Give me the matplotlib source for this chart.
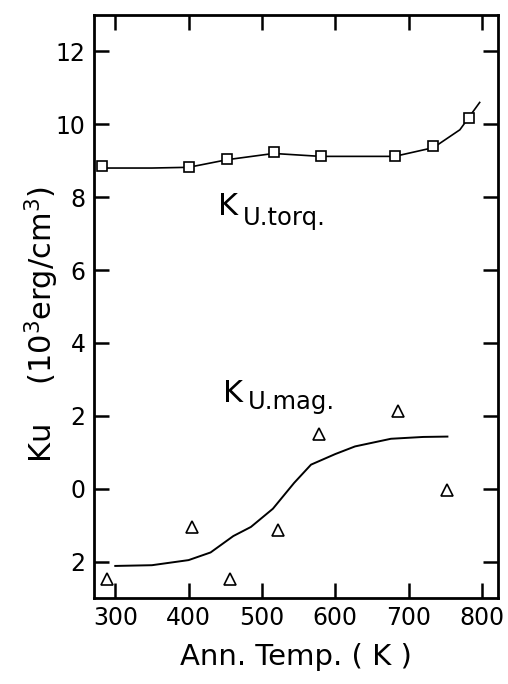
import matplotlib.pyplot as plt

plt.rcParams['font.family'] = ['DejaVu Sans']

torq_temp = [282, 400, 453, 516, 580, 681, 734, 782]
torq_ku = [8.85, 8.84, 9.05, 9.24, 9.13, 9.13, 9.40, 10.18]
torq_fit_temp = [285, 350, 400, 453, 516, 580, 681, 734, 770, 797]
torq_fit_ku = [8.80, 8.80, 8.82, 9.03, 9.20, 9.12, 9.12, 9.36, 9.85, 10.60]

mag_temp = [289, 404, 456, 522, 578, 686, 753]
mag_ku = [-2.48, -1.05, -2.48, -1.13, 1.49, 2.12, -0.03]
mag_fit_temp = [300, 350, 400, 430, 461, 485, 515, 544, 567, 600, 627, 676, 720, 753]
mag_fit_ku = [-2.12, -2.10, -1.96, -1.75, -1.30, -1.05, -0.55, 0.16, 0.66,
              0.95, 1.16, 1.37, 1.42, 1.43]

xticks = [300, 400, 500, 600, 700, 800]
yticks = [-2, 0, 2, 4, 6, 8, 10, 12]
ytick_labels = ['2', '0', '2', '4', '6', '8', '10', '12']

fig = plt.figure(figsize=(5.08, 6.84), dpi=100)
ax = fig.add_axes([94 / 508, 1 - 598 / 684, (498 - 94) / 508, (598 - 15) / 684])

ax.plot(torq_fit_temp, torq_fit_ku, '-', color='black', lw=1.2, zorder=2)
ax.plot(torq_temp, torq_ku, 's', ms=7, mfc='white', mec='black', mew=1.2, zorder=3)

ax.plot(mag_fit_temp, mag_fit_ku, '-', color='black', lw=1.4, zorder=2)
ax.plot(mag_temp, mag_ku, '^', ms=9, mfc='none', mec='black', mew=1.2, zorder=3)

# 曲线标注：K 加下标
for x0, y0, sub, dy in [(440, 7.52, 'U.torq.', -7.5), (447, 2.38, 'U.mag.', -5)]:
    ax.text(x0, y0, 'K', fontsize=22, ha='left', va='baseline')
    ax.annotate(sub, (x0, y0), xytext=(18, dy), textcoords='offset points',
                fontsize=17.5, ha='left', va='baseline')

ax.set_xlim(271, 822)
ax.set_ylim(-3, 13)
ax.set_xticks(xticks)
ax.set_yticks(yticks)
ax.set_yticklabels(ytick_labels)
ax.tick_params(direction='in', length=11, width=1.8, labelsize=17,
               top=True, right=True, pad=6)

for s in ax.spines.values():
    s.set_linewidth(2)

ax.set_xlabel('Ann. Temp. ( K )', fontsize=21, labelpad=9)
fig.text(42 / 508, 1 - 325 / 684, 'Ku    (10$^3$erg/cm$^3$)', fontsize=22,
         rotation=90, ha='center', va='center')

plt.savefig('out.png', dpi=100, facecolor='white')
plt.close()
